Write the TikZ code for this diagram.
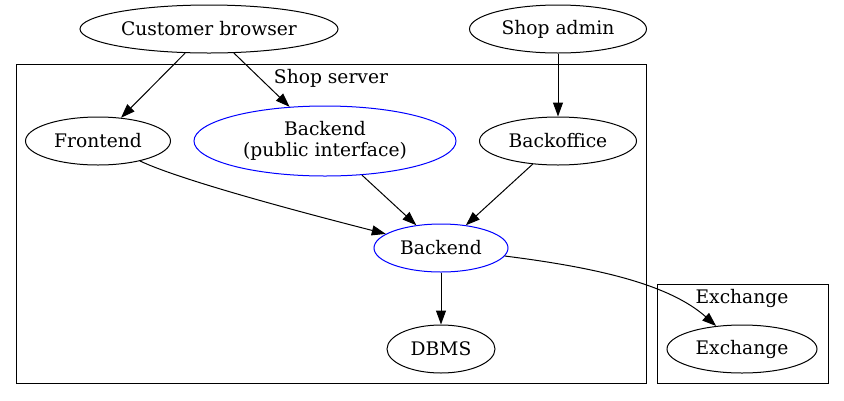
\documentclass[tikz,border=0pt]{standalone}
\usepackage{fontspec}
\setmainfont{DejaVu Serif}
\usetikzlibrary{shapes.geometric,arrows.meta}
\begin{document}
\begin{tikzpicture}[x=1pt,y=-1pt,
  every node/.style={font=\fontsize{18.67}{21}\selectfont},
  nd/.style={ellipse,draw,line width=1pt,inner sep=0pt,minimum height=48pt},
  bl/.style={nd,draw=blue},
  cl/.style={draw,line width=1pt},
  ed/.style={draw,line width=1pt,-{Triangle[length=14pt,width=10pt]}}]
\useasboundingbox (0,0) rectangle (844,400);
% clusters
\draw[cl] (16,64) rectangle (646,383);
\node (shoplbl) at (331,78) {Shop server};
\draw[cl] (657,284) rectangle (828,383);
\node (exlbl) at (742,298) {Exchange};
% nodes
\node[nd, minimum width=258pt] (cb) at (209,29) {Customer browser};
\node[nd, minimum width=177pt] (sa) at (558,29) {Shop admin};
\node[nd, minimum width=145pt] (fe) at (98,141) {Frontend};
\node[bl, minimum width=262pt, minimum height=70pt, align=center] (bp) at (325,141) {Backend\\(public interface)};
\node[nd, minimum width=157pt] (bo) at (558,141) {Backoffice};
\node[bl, minimum width=134pt] (be) at (441,248) {Backend};
\node[nd, minimum width=108pt] (db) at (441,349) {DBMS};
\node[nd, minimum width=150pt] (ex) at (742,349) {Exchange};
% edges
\draw[ed] (cb) -- (fe);
\draw[ed] (cb) -- (bp);
\draw[ed] (sa) -- (bo);
\draw[ed] (fe) .. controls (180,180) and (300,212) .. (be);
\draw[ed] (bp) -- (be);
\draw[ed] (bo) -- (be);
\draw[ed] (be) -- (db);
\draw[ed] (be) .. controls (600,268) and (670,285) .. (ex);
\end{tikzpicture}
\end{document}
